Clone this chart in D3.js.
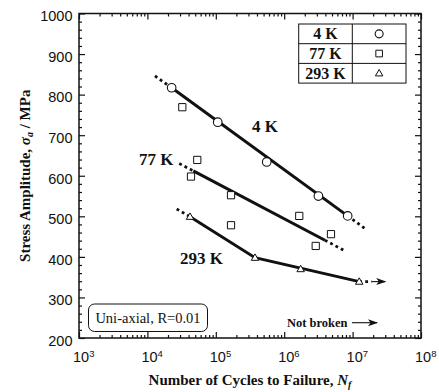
<!DOCTYPE html>
<html>
<head>
  <meta charset="UTF-8">
  <title>S-N curves</title>
  <style>
    body { margin: 0; background: #fff; }
    svg { display: block; background: #fff; }
    .tick text { font-family: "Liberation Sans", Arial, sans-serif; font-size: 14.5px; fill: #111; }
    .serif { font-family: "Liberation Serif", "Times New Roman", serif; fill: #111; }
  </style>
</head>
<body>
<svg></svg>
<script src="https://d3js.org/d3.v7.min.js"></script>
<script>

let width = 439, height = 392;

const cycles4K = [22600, 106700, 555000, 3160000, 8470000];
const stress4K = [817, 732, 634, 550, 501];
const cycles77K = [32400, 53600, 43400, 167000, 167000, 1660000, 4830000, 2890000];
const stress77K = [769, 639, 598, 552, 478, 501, 456, 427];
const cycles293K = [42000, 374000, 1740000, 12500000];
const stress293K = [499, 398, 370, 339];

// drawn trend lines: [dotted start, solid ..., dotted end]
const fitCycles4K = [12900, 22600, 8470000, 15700000];
const fitStress4K = [846, 817, 501, 468];
const fitCycles77K = [29200, 46900, 3940000, 7700000];
const fitStress77K = [630, 612, 441, 415];
const fitCycles293K = [26800, 42000, 374000, 12500000];
const fitStress293K = [518, 499, 398, 339];
const arrowCycles293K = [12500000, 19000000, 30000000];

const xMajor = [1e3, 1e4, 1e5, 1e6, 1e7, 1e8];
const yMajor = [200, 300, 400, 500, 600, 700, 800, 900, 1000];
const legendLabels = ["4 K", "77 K", "293 K"];

let svg = d3.select("svg").attr("width", width).attr("height", height);

let m = {left: 79, right: 421, top: 13.5, bottom: 338};

let x = d3.scaleLog().domain([1e3, 1e8]).range([m.left, m.right]);
let y = d3.scaleLinear().domain([200, 1000]).range([m.bottom, m.top]);

// minor ticks
let xMinor = [];
for (let e = 3; e < 8; e++) for (let k = 2; k <= 9; k++) xMinor.push(k * Math.pow(10, e));
let yMinor = d3.range(200, 1001, 20).filter(v => v % 100 != 0);

function axisStyle(g) {
  g.select(".domain").remove();
  g.selectAll(".tick line").attr("stroke", "#111").attr("stroke-width", 1.2);
}

// bottom
svg.append("g").attr("transform", "translate(0," + m.bottom + ")")
  .call(d3.axisBottom(x).tickValues(xMinor).tickSize(-3).tickFormat(""))
  .call(axisStyle);
let xb = svg.append("g").attr("transform", "translate(0," + m.bottom + ")")
  .call(d3.axisBottom(x).tickValues(xMajor).tickSize(-6).tickPadding(14).tickFormat(""))
  .call(axisStyle);
xb.selectAll(".tick text").each(function(d) {
  let t = d3.select(this).attr("text-anchor", "start").attr("x", -6.5);
  t.append("tspan").text("10");
  t.append("tspan").attr("dy", -5.5).style("font-size", "9.5px").text(Math.round(Math.log10(d)));
});
// top
svg.append("g").attr("transform", "translate(0," + m.top + ")")
  .call(d3.axisTop(x).tickValues(xMinor).tickSize(-3).tickFormat(""))
  .call(axisStyle);
svg.append("g").attr("transform", "translate(0," + m.top + ")")
  .call(d3.axisTop(x).tickValues(xMajor).tickSize(-6).tickFormat(""))
  .call(axisStyle);
// left
svg.append("g").attr("transform", "translate(" + m.left + ",0)")
  .call(d3.axisLeft(y).tickValues(yMinor).tickSize(-3).tickFormat(""))
  .call(axisStyle);
let yl = svg.append("g").attr("transform", "translate(" + m.left + ",0)")
  .call(d3.axisLeft(y).tickValues(yMajor).tickSize(-6).tickPadding(6.5).tickFormat(d3.format("d")))
  .call(axisStyle);
yl.selectAll(".tick text").attr("dy", "0.5em");
// right
svg.append("g").attr("transform", "translate(" + m.right + ",0)")
  .call(d3.axisRight(y).tickValues(yMinor).tickSize(-3).tickFormat(""))
  .call(axisStyle);
svg.append("g").attr("transform", "translate(" + m.right + ",0)")
  .call(d3.axisRight(y).tickValues(yMajor).tickSize(-6).tickFormat(""))
  .call(axisStyle);

svg.append("rect")
  .attr("x", m.left).attr("y", m.top)
  .attr("width", m.right - m.left).attr("height", m.bottom - m.top)
  .attr("fill", "none").attr("stroke", "#111").attr("stroke-width", 1.5);

// trend lines
let line = d3.line().x(d => x(d[0])).y(d => y(d[1]));

function drawFit(cs, ss) {
  let pts = d3.zip(cs, ss);
  let n = pts.length;
  svg.append("path").attr("d", line(pts.slice(1, n - 1)))
    .attr("fill", "none").attr("stroke", "#111").attr("stroke-width", 3);
  svg.append("path").attr("d", line(pts.slice(0, 2)))
    .attr("fill", "none").attr("stroke", "#111").attr("stroke-width", 2.8)
    .attr("stroke-dasharray", "2.8,3.2");
  svg.append("path").attr("d", line(pts.slice(n - 2)))
    .attr("fill", "none").attr("stroke", "#111").attr("stroke-width", 2.8)
    .attr("stroke-dasharray", "2.8,3.2");
}
drawFit(fitCycles4K, fitStress4K);
drawFit(fitCycles77K, fitStress77K);
// 293 K: dotted start, solid two segments, then arrow
let p293 = d3.zip(fitCycles293K, fitStress293K);
svg.append("path").attr("d", line(p293.slice(1)))
  .attr("fill", "none").attr("stroke", "#111").attr("stroke-width", 3);
svg.append("path").attr("d", line(p293.slice(0, 2)))
  .attr("fill", "none").attr("stroke", "#111").attr("stroke-width", 2.8)
  .attr("stroke-dasharray", "2.8,3.2");

svg.append("defs").append("marker")
  .attr("id", "arr").attr("viewBox", "0 -4 10 8")
  .attr("refX", 9).attr("refY", 0)
  .attr("markerWidth", 10).attr("markerHeight", 8)
  .attr("markerUnits", "userSpaceOnUse")
  .attr("orient", "auto")
  .append("path").attr("d", "M0,-3.5L10,0L0,3.5L2.5,0Z").attr("fill", "#111");

let yLast = stress293K[stress293K.length - 1];
svg.append("path")
  .attr("d", line([[arrowCycles293K[0], yLast], [arrowCycles293K[1], yLast]]))
  .attr("stroke", "#111").attr("stroke-width", 2.8).attr("stroke-dasharray", "2.8,3.2");
svg.append("path")
  .attr("d", line([[arrowCycles293K[1], yLast], [arrowCycles293K[2], yLast]]))
  .attr("stroke", "#111").attr("stroke-width", 1.1).attr("marker-end", "url(#arr)");

// markers
let sq = d3.symbol().type(d3.symbolSquare).size(52);
let tri = d3.symbol().type(d3.symbolTriangle).size(24);

svg.append("g").selectAll("path").data(d3.zip(cycles77K, stress77K)).join("path")
  .attr("d", sq)
  .attr("transform", d => "translate(" + x(d[0]) + "," + y(d[1]) + ")")
  .attr("fill", "#fff").attr("stroke", "#111").attr("stroke-width", 1);
svg.append("g").selectAll("circle").data(d3.zip(cycles4K, stress4K)).join("circle")
  .attr("cx", d => x(d[0])).attr("cy", d => y(d[1])).attr("r", 4.3)
  .attr("fill", "#fff").attr("stroke", "#111").attr("stroke-width", 1.1);
svg.append("g").selectAll("path").data(d3.zip(cycles293K, stress293K)).join("path")
  .attr("d", tri)
  .attr("transform", d => "translate(" + x(d[0]) + "," + (y(d[1]) + 0.5) + ")")
  .attr("fill", "#fff").attr("stroke", "#111").attr("stroke-width", 1);

// curve labels
svg.append("text").attr("class", "serif").attr("x", 252).attr("y", 132)
  .style("font-size", "17px").style("font-weight", "bold").text("4 K");
svg.append("text").attr("class", "serif").attr("x", 139).attr("y", 165)
  .style("font-size", "17px").style("font-weight", "bold").text("77 K");
svg.append("text").attr("class", "serif").attr("x", 180).attr("y", 263.5)
  .style("font-size", "17px").style("font-weight", "bold").text("293 K");

// legend table
let lg = svg.append("g").attr("transform", "translate(298.7,24)");
let rowH = 19.7, colW = 53.6, tableW = 107.3;
lg.append("rect").attr("width", tableW).attr("height", rowH * 3)
  .attr("fill", "#fff").attr("stroke", "#111").attr("stroke-width", 1);
lg.append("line").attr("x1", colW).attr("x2", colW).attr("y1", 0).attr("y2", rowH * 3)
  .attr("stroke", "#111").attr("stroke-width", 1);
for (let i = 1; i < 3; i++) {
  lg.append("line").attr("x1", 0).attr("x2", tableW).attr("y1", i * rowH).attr("y2", i * rowH)
    .attr("stroke", "#111").attr("stroke-width", 1);
}
lg.selectAll("text.lab").data(legendLabels).join("text")
  .attr("class", "serif lab")
  .attr("x", colW / 2).attr("y", (d, i) => i * rowH + rowH / 2 + 5.5)
  .attr("text-anchor", "middle")
  .style("font-size", "16px").style("font-weight", "bold")
  .text(d => d);
let sx = colW + (tableW - colW) / 2;
lg.append("circle").attr("cx", sx).attr("cy", rowH / 2).attr("r", 4)
  .attr("fill", "#fff").attr("stroke", "#111").attr("stroke-width", 1.1);
lg.append("path").attr("d", d3.symbol().type(d3.symbolSquare).size(44))
  .attr("transform", "translate(" + sx + "," + (rowH * 1.5) + ")")
  .attr("fill", "#fff").attr("stroke", "#111").attr("stroke-width", 1);
lg.append("path").attr("d", tri)
  .attr("transform", "translate(" + sx + "," + (rowH * 2.5 + 0.5) + ")")
  .attr("fill", "#fff").attr("stroke", "#111").attr("stroke-width", 1);

// condition box
svg.append("rect").attr("x", 88.5).attr("y", 304).attr("width", 119).attr("height", 27.5)
  .attr("rx", 6).attr("fill", "#fff").attr("stroke", "#111").attr("stroke-width", 1);
svg.append("text").attr("class", "serif").attr("x", 148).attr("y", 323)
  .attr("text-anchor", "middle").style("font-size", "14.5px").text("Uni-axial, R=0.01");

// not broken note
svg.append("text").attr("class", "serif").attr("x", 287).attr("y", 326.5)
  .style("font-size", "12.5px").style("font-weight", "bold").text("Not broken");
svg.append("line").attr("x1", 352).attr("x2", 377).attr("y1", 322.7).attr("y2", 322.7)
  .attr("stroke", "#111").attr("stroke-width", 1.1).attr("marker-end", "url(#arr)");

// axis titles
let xt = svg.append("text").attr("class", "serif")
  .attr("x", (m.left + m.right) / 2).attr("y", 385)
  .attr("text-anchor", "middle")
  .style("font-size", "15px").style("font-weight", "bold");
xt.append("tspan").text("Number of Cycles to Failure, ");
xt.append("tspan").style("font-style", "italic").text("N");
xt.append("tspan").style("font-style", "italic").style("font-size", "10px").attr("dy", 3).text("f");

let yt = svg.append("text").attr("class", "serif")
  .attr("transform", "translate(30," + ((m.top + m.bottom) / 2) + ") rotate(-90)")
  .attr("text-anchor", "middle")
  .style("font-size", "15px").style("font-weight", "bold");
yt.append("tspan").text("Stress Amplitude, ");
yt.append("tspan").style("font-style", "italic").text("σ");
yt.append("tspan").style("font-style", "italic").style("font-size", "10px").attr("dy", 3).text("a");
yt.append("tspan").attr("dy", -3).text(" / MPa");

</script>
</body>
</html>
